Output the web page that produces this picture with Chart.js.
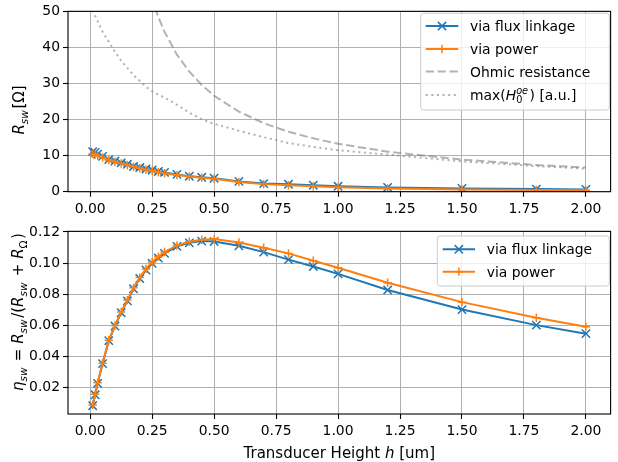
<!DOCTYPE html>
<html><head><meta charset="utf-8">
<script src="https://cdn.jsdelivr.net/npm/chart.js@4.4.0/dist/chart.umd.min.js"></script>
<style>
html,body{margin:0;padding:0;background:#fff;}
#wrap{position:relative;width:618px;height:462px;overflow:hidden;background:#fff;}
canvas{position:absolute;left:0;}
</style></head><body>
<div id="wrap">
<canvas id="topChart" width="618" height="220" style="top:0px"></canvas>
<canvas id="botChart" width="618" height="242" style="top:220px"></canvas>
</div>
<script>
// ---------------- data ----------------
const heights = [0.01,0.02,0.03,0.05,0.075,0.1,0.125,0.15,0.175,0.2,0.225,0.25,0.275,0.3,0.35,0.4,0.45,0.5,0.6,0.7,0.8,0.9,1.0,1.2,1.5,1.8,2.0];
const xTickLabels = ['0.00','0.25','0.50','0.75','1.00','1.25','1.50','1.75','2.00'];
const rTickLabels = ['0','10','20','30','40','50'];
const etaTickLabels = ['0.02','0.04','0.06','0.08','0.10','0.12'];

const rswFluxLinkage = [11.1,10.9,10.4,9.8,8.9,8.5,8.0,7.6,7.0,6.7,6.3,6.0,5.6,5.35,4.8,4.3,4.0,3.75,2.85,2.25,2.05,1.8,1.5,1.17,0.9,0.72,0.63];
const rswPower       = [10.5,10.3,10.0,9.5,8.8,8.3,7.8,7.4,6.9,6.5,6.1,5.8,5.4,5.1,4.6,4.2,3.9,3.6,2.7,2.1,1.8,1.5,1.2,0.9,0.64,0.47,0.37];
const ohmicResistance = [1330,665,443,266,177,133,106,88.7,76,66.5,59.1,53.2,48.4,44.3,38.0,33.3,29.6,26.6,22.2,19.0,16.6,14.8,13.3,11.1,8.9,7.4,6.7];
const maxH0oe = [50.3,48.7,47.3,44.3,41.6,38.8,36.3,34.3,32.3,30.7,29.1,27.8,26.9,26.1,24.1,21.9,20.1,18.8,16.9,15.1,13.5,12.4,11.5,10.3,8.4,7.1,6.4];

const etaFluxLinkage = [0.0081,0.0151,0.0225,0.0352,0.0500,0.0594,0.0680,0.0756,0.0834,0.0900,0.0955,0.0998,0.1032,0.1062,0.1107,0.1130,0.1141,0.1139,0.1111,0.1070,0.1022,0.0978,0.0930,0.0826,0.0700,0.0600,0.0545];
const etaPower       = [0.0085,0.0155,0.0228,0.0355,0.0503,0.0597,0.0684,0.0761,0.0840,0.0906,0.0962,0.1006,0.1041,0.1071,0.1113,0.1137,0.1150,0.1154,0.1132,0.1098,0.1062,0.1015,0.0970,0.0873,0.0748,0.0647,0.0590];

const seriesNames = ['via flux linkage','via power','Ohmic resistance','max(H0oe) [a.u.]'];

// ---------------- helpers ----------------
const FF = '"DejaVu Sans", sans-serif';
const FS = 13.9;   // ticks & legend
const LS = 15.0;   // axis labels
const BLUE = '#1f77b4', ORANGE = '#ff7f0e', GREY = 'rgba(128,128,128,0.6)';
function fnt(sz, it){ return (it?'italic ':'') + sz + 'px ' + FF; }
function partWidth(ctx,p,sz){
  if(p.sub!==undefined || p.sup!==undefined){
    const s=sz*0.7; let w1=0,w2=0;
    if(p.sub!==undefined){ctx.font=fnt(s,p.subIt); w1=ctx.measureText(p.sub).width;}
    if(p.sup!==undefined){ctx.font=fnt(s,p.supIt); w2=ctx.measureText(p.sup).width;}
    return Math.max(w1,w2)+1.5;
  }
  ctx.font=fnt(sz,p.it); return ctx.measureText(p.t).width;
}
function drawRich(ctx, parts, x, y, sz, align){
  ctx.save(); ctx.fillStyle='#000'; ctx.textBaseline='alphabetic'; ctx.textAlign='left';
  let w=0; for(const p of parts) w+=partWidth(ctx,p,sz);
  let cx = align==='center' ? x - w/2 : x;
  for(const p of parts){
    const pw = partWidth(ctx,p,sz);
    if(p.sub!==undefined || p.sup!==undefined){
      const s=sz*0.7;
      if(p.sub!==undefined){ctx.font=fnt(s,p.subIt); ctx.fillText(p.sub,cx,y+sz*0.22);}
      if(p.sup!==undefined){ctx.font=fnt(s,p.supIt); ctx.fillText(p.sup,cx,y-sz*0.42);}
    } else { ctx.font=fnt(sz,p.it); ctx.fillText(p.t,cx,y); }
    cx += pw;
  }
  ctx.restore();
}
function drawMarker(ctx, kind, x, y, color){
  ctx.save(); ctx.strokeStyle=color; ctx.lineWidth=1.5; ctx.setLineDash([]);
  ctx.beginPath();
  if(kind==='x'){ const r=4.15; ctx.moveTo(x-r,y-r); ctx.lineTo(x+r,y+r); ctx.moveTo(x-r,y+r); ctx.lineTo(x+r,y-r); }
  else if(kind==='+'){ const r=4.15; ctx.moveTo(x-r,y); ctx.lineTo(x+r,y); ctx.moveTo(x,y-r); ctx.lineTo(x,y+r); }
  ctx.stroke(); ctx.restore();
}

const decorPlugin = {
  id:'decor',
  afterDatasetsDraw(chart, args, opts){
    const ctx = chart.ctx, a = chart.chartArea;
    ctx.save(); ctx.strokeStyle='#000'; ctx.lineWidth=1.1; ctx.setLineDash([]);
    ctx.strokeRect(a.left, a.top, a.right-a.left, a.bottom-a.top); ctx.restore();
    const L = opts.legend;
    if(L){
      ctx.save();
      ctx.beginPath();
      if(ctx.roundRect) ctx.roundRect(L.x0, L.y0, L.x1-L.x0, L.y1-L.y0, 3); else ctx.rect(L.x0, L.y0, L.x1-L.x0, L.y1-L.y0);
      ctx.fillStyle='rgba(255,255,255,0.8)'; ctx.fill();
      ctx.strokeStyle='#cccccc'; ctx.lineWidth=1; ctx.stroke();
      ctx.restore();
      L.rows.forEach(r=>{
        ctx.save(); ctx.strokeStyle=r.color; ctx.lineWidth=r.lw; ctx.setLineDash(r.dash||[]);
        ctx.beginPath(); ctx.moveTo(L.hx0, r.y); ctx.lineTo(L.hx1, r.y); ctx.stroke(); ctx.restore();
        if(r.marker) drawMarker(ctx, r.marker, (L.hx0+L.hx1)/2, r.y, r.color);
        drawRich(ctx, r.parts, L.tx, r.y + FS*0.36, FS, 'left');
      });
    }
    if(opts.ylabel){
      ctx.save(); ctx.translate(opts.ylabel.x, opts.ylabel.y); ctx.rotate(-Math.PI/2);
      drawRich(ctx, opts.ylabel.parts, 0, LS*0.36, LS, 'center'); ctx.restore();
    }
    if(opts.xlabel){
      drawRich(ctx, opts.xlabel.parts, (a.left+a.right)/2, opts.xlabel.y + LS*0.36, LS, 'center');
    }
  }
};

function xScale(height){
  return {
    type:'linear', min:-0.0895, max:2.0995,
    afterBuildTicks: s => { s.ticks = xTickLabels.map(l=>({value:parseFloat(l)})); },
    afterFit: s => { s.height = height; },
    ticks:{ callback:(v,i)=>xTickLabels[i], color:'#000', font:{family:'DejaVu Sans', size:FS}, padding:4.3, maxRotation:0, autoSkip:false },
    grid:{ color:'#b0b0b0', lineWidth:1, tickColor:'#000', tickLength:5, tickWidth:1.1, drawTicks:true },
    border:{ display:false }
  };
}
function yScale(min, max, labels){
  return {
    type:'linear', min:min, max:max,
    afterBuildTicks: s => { s.ticks = labels.map(l=>({value:parseFloat(l)})); },
    afterFit: s => { s.width = 68; },
    ticks:{ callback:(v,i)=>labels[i], color:'#000', font:{family:'DejaVu Sans', size:FS}, padding:3, autoSkip:false },
    grid:{ color:'#b0b0b0', lineWidth:1, tickColor:'#000', tickLength:5, tickWidth:1.1, drawTicks:true },
    border:{ display:false }
  };
}
function pts(ys){ return heights.map((h,i)=>({x:h, y:ys[i]})); }
function lineDs(label, ys, color, extra){
  return Object.assign({ label, data:pts(ys), borderColor:color, backgroundColor:color, borderWidth:2,
    pointRadius:0, pointHoverRadius:0, pointBorderColor:color, pointBackgroundColor:color, pointBorderWidth:1.5,
    fill:false, tension:0 }, extra);
}

Chart.defaults.font.family = 'DejaVu Sans';

new Chart(document.getElementById('topChart'), {
  type:'line',
  data:{ datasets:[
    lineDs(seriesNames[0], rswFluxLinkage, BLUE, {pointStyle:'crossRot', pointRadius:5.9, order:4}),
    lineDs(seriesNames[1], rswPower, ORANGE, {pointStyle:'cross', pointRadius:4.2, order:3}),
    lineDs(seriesNames[2], ohmicResistance, GREY, {borderDash:[8.3,3.6], order:2}),
    lineDs(seriesNames[3], maxH0oe, GREY, {borderDash:[2.1,3.5], order:1})
  ]},
  options:{
    responsive:false, animation:false, devicePixelRatio:1, events:[],
    layout:{ padding:{ top:5.5, right:2.4, left:0, bottom:0 } },
    scales:{ x:xScale(28.3), y:yScale(0, 50, rTickLabels) },
    plugins:{
      legend:{display:false}, tooltip:{enabled:false},
      decor:{
        ylabel:{ x:19, y:110, parts:[{t:'R',it:1},{sub:'sw',subIt:1},{t:'[Ω]'}] },
        legend:{ x0:420.7, y0:13.3, x1:609.3, y1:110, hx0:425.7, hx1:458.3, tx:470,
          rows:[
            {y:26,   color:BLUE,   lw:2, marker:'x', parts:[{t:seriesNames[0]}]},
            {y:49,   color:ORANGE, lw:2, marker:'+', parts:[{t:seriesNames[1]}]},
            {y:71.5, color:GREY,   lw:2, dash:[8.3,3.6], parts:[{t:seriesNames[2]}]},
            {y:95,   color:GREY,   lw:2, dash:[2.1,3.5], parts:[{t:'max('},{t:'H',it:1},{sub:'0',sup:'oe',supIt:1},{t:') [a.u.]'}]}
          ]}
      }
    }
  },
  plugins:[decorPlugin]
});

new Chart(document.getElementById('botChart'), {
  type:'line',
  data:{ datasets:[
    lineDs(seriesNames[0], etaFluxLinkage, BLUE, {pointStyle:'crossRot', pointRadius:5.9, order:2}),
    lineDs(seriesNames[1], etaPower, ORANGE, {pointStyle:'cross', pointRadius:4.2, order:1})
  ]},
  options:{
    responsive:false, animation:false, devicePixelRatio:1, events:[],
    layout:{ padding:{ top:8.7, right:2.4, left:0, bottom:0 } },
    scales:{ x:xScale(48), y:yScale(0.00275, 0.1204, etaTickLabels) },
    plugins:{
      legend:{display:false}, tooltip:{enabled:false},
      decor:{
        ylabel:{ x:18, y:92, parts:[{t:'η',it:1},{sub:'sw',subIt:1},{t:' = '},{t:'R',it:1},{sub:'sw',subIt:1},{t:'/('},{t:'R',it:1},{sub:'sw',subIt:1},{t:' + '},{t:'R',it:1},{sub:'Ω'},{t:')'}] },
        xlabel:{ y:232.5, parts:[{t:'Transducer Height '},{t:'h',it:1},{t:' [um]'}] },
        legend:{ x0:437.3, y0:16, x1:609.3, y1:66, hx0:442.7, hx1:475, tx:486.7,
          rows:[
            {y:29.3, color:BLUE,   lw:2, marker:'x', parts:[{t:seriesNames[0]}]},
            {y:51.7, color:ORANGE, lw:2, marker:'+', parts:[{t:seriesNames[1]}]}
          ]}
      }
    }
  },
  plugins:[decorPlugin]
});
</script>
</body></html>
